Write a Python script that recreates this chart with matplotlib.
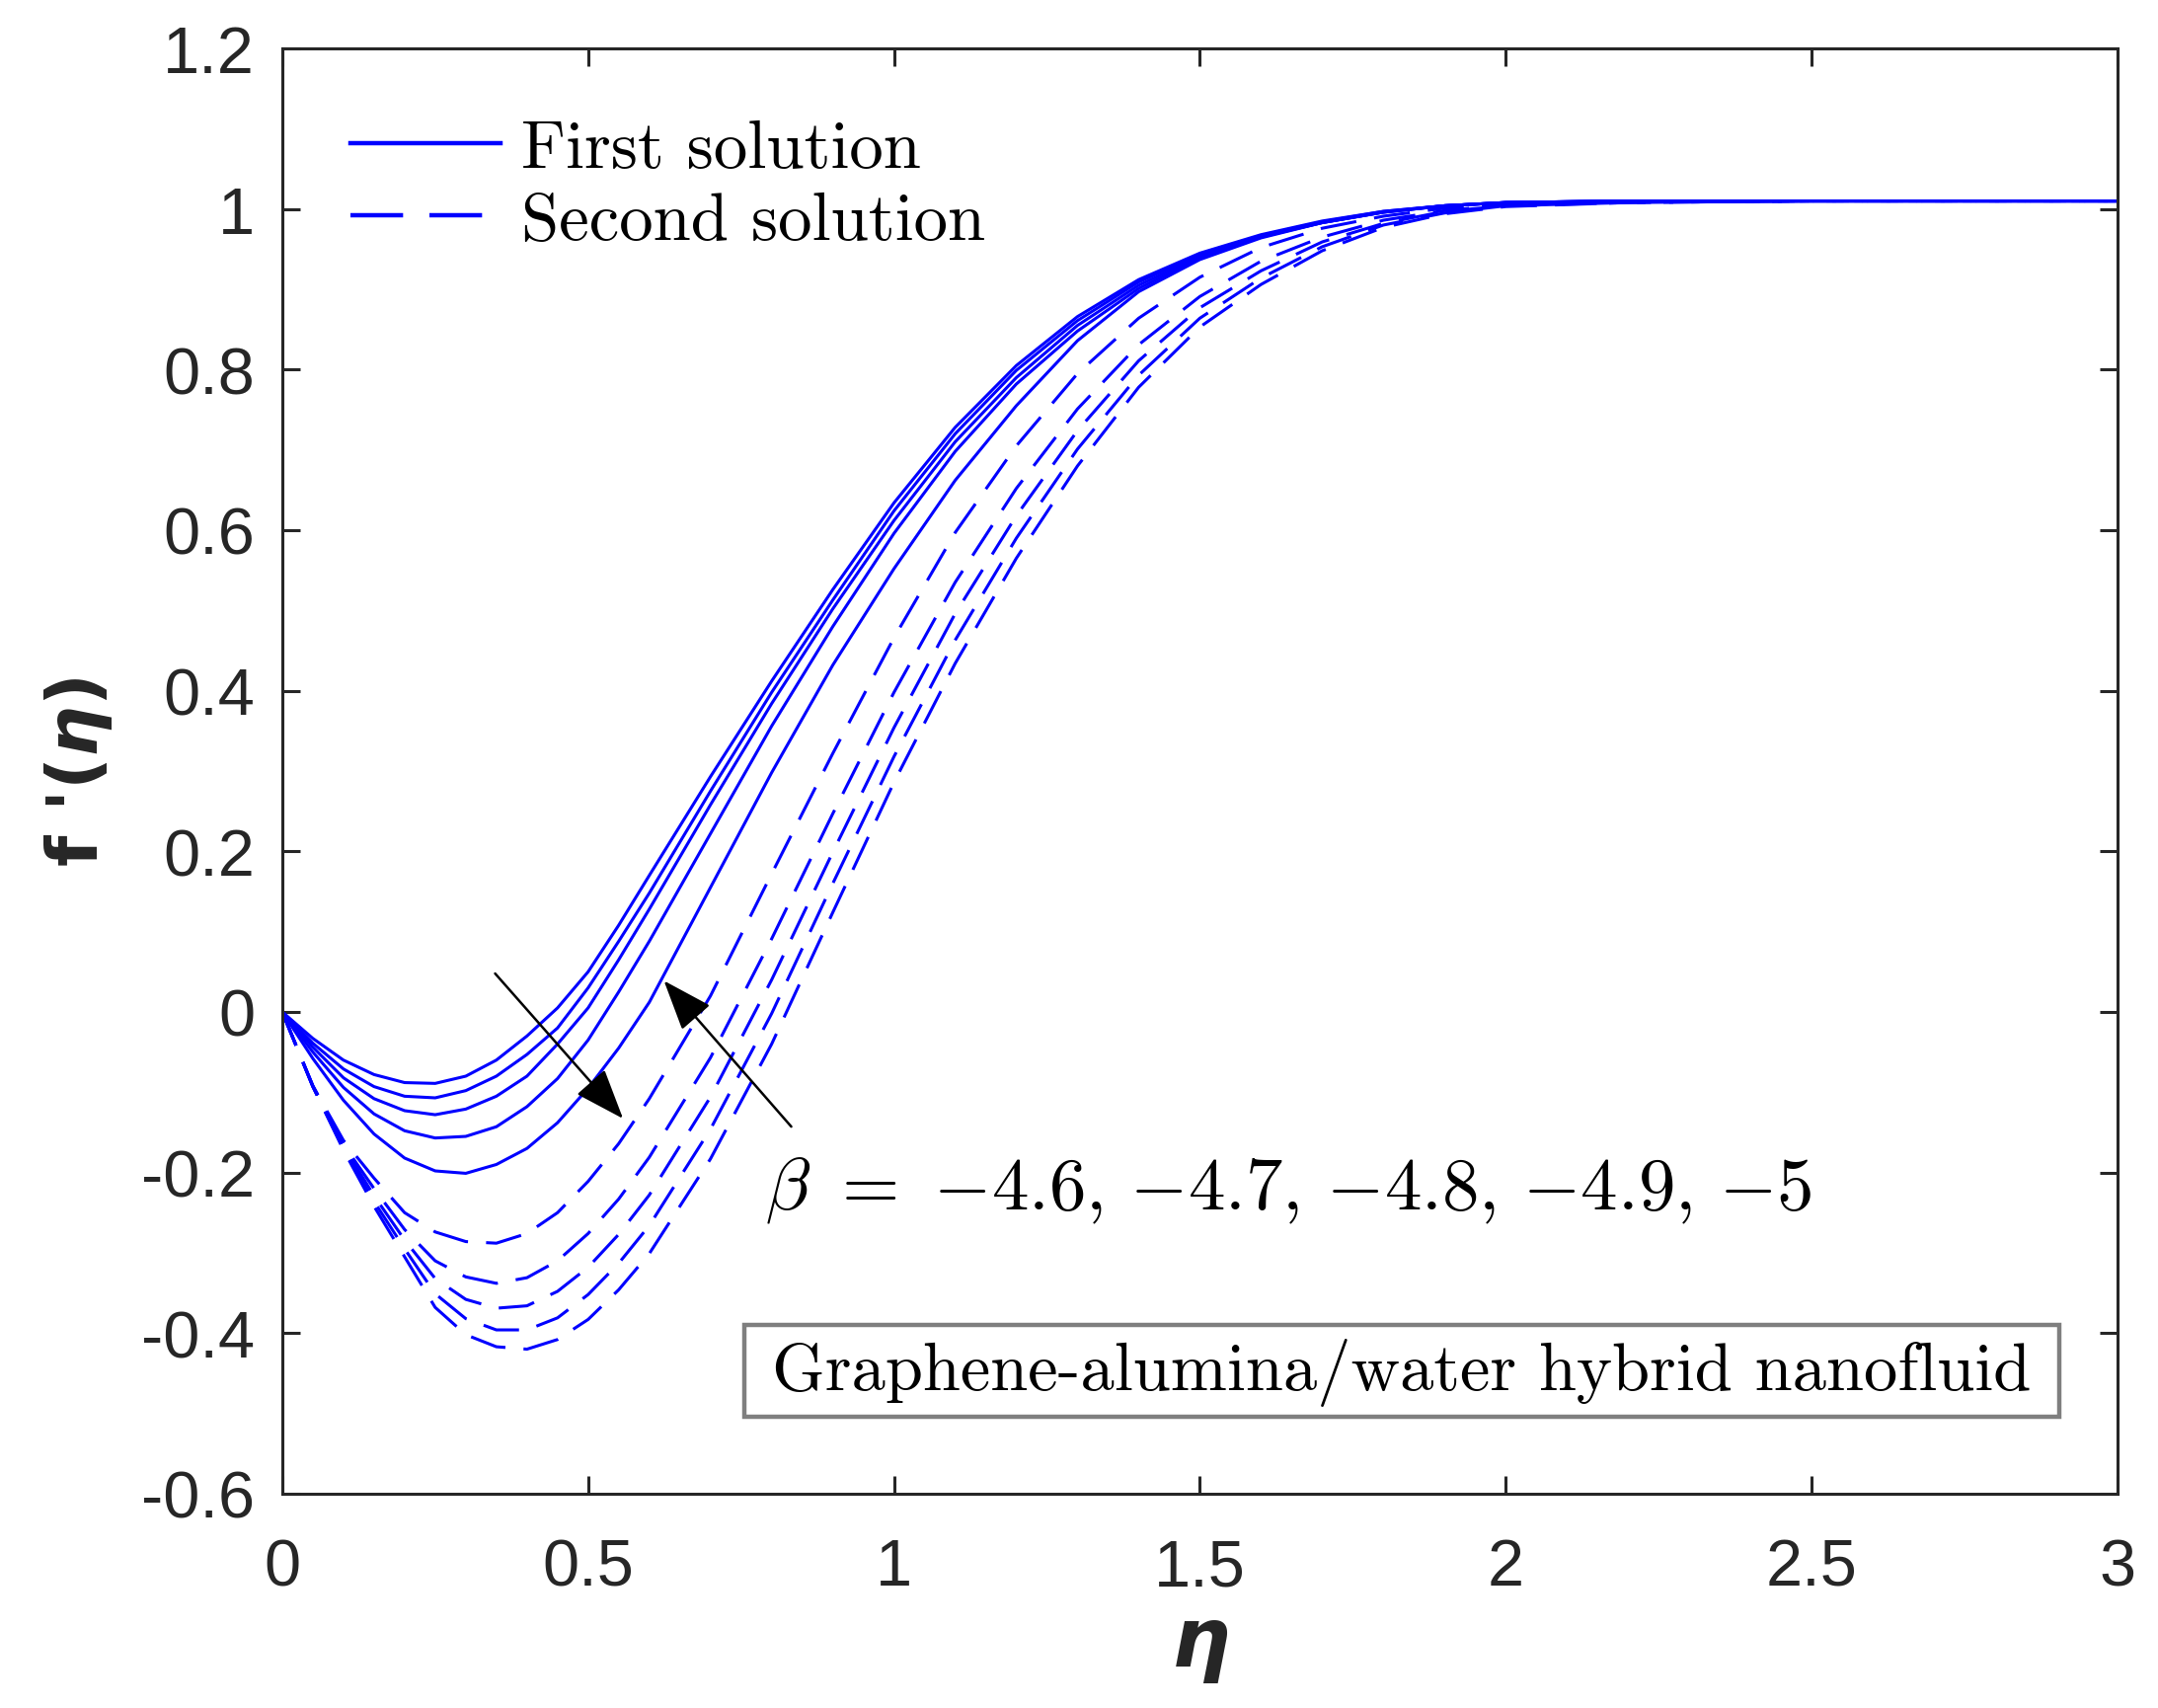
import numpy as np
import matplotlib.pyplot as plt
from matplotlib.patches import Rectangle

plt.rcParams['axes.unicode_minus'] = False
plt.rcParams['mathtext.fontset'] = 'custom'
plt.rcParams['mathtext.bfit'] = 'DejaVu Sans:italic:bold'
plt.rcParams['mathtext.bf'] = 'DejaVu Sans:bold'

eta = [0, 0.05, 0.1, 0.15, 0.2, 0.25, 0.3, 0.35, 0.4, 0.45, 0.5, 0.55, 0.6, 0.7, 0.8,
       0.9, 1.0, 1.1, 1.2, 1.3, 1.4, 1.5, 1.6, 1.7, 1.8, 1.9, 2.0, 2.2, 2.5, 3.0]

# first solution, beta = -4.6 ... -5
first = [
    [0, -0.033, -0.060, -0.078, -0.088, -0.089, -0.080, -0.060, -0.030, 0.005, 0.050, 0.108, 0.170, 0.293, 0.412,
     0.526, 0.634, 0.728, 0.805, 0.866, 0.912, 0.945, 0.968, 0.985, 0.997, 1.004, 1.008, 1.010, 1.010, 1.010],
    [0, -0.039, -0.071, -0.093, -0.105, -0.107, -0.098, -0.080, -0.053, -0.020, 0.030, 0.088, 0.148, 0.275, 0.398,
     0.513, 0.624, 0.720, 0.799, 0.861, 0.909, 0.943, 0.967, 0.984, 0.997, 1.004, 1.008, 1.010, 1.010, 1.010],
    [0, -0.044, -0.082, -0.108, -0.123, -0.128, -0.121, -0.105, -0.080, -0.040, 0.005, 0.065, 0.128, 0.258, 0.384,
     0.502, 0.612, 0.710, 0.790, 0.855, 0.905, 0.941, 0.966, 0.983, 0.996, 1.004, 1.008, 1.010, 1.010, 1.010],
    [0, -0.050, -0.094, -0.127, -0.148, -0.157, -0.155, -0.143, -0.118, -0.083, -0.035, 0.025, 0.088, 0.222, 0.356,
     0.480, 0.596, 0.698, 0.782, 0.848, 0.901, 0.939, 0.965, 0.983, 0.996, 1.004, 1.008, 1.010, 1.010, 1.010],
    [0, -0.058, -0.110, -0.152, -0.182, -0.198, -0.201, -0.190, -0.170, -0.138, -0.095, -0.045, 0.012, 0.155, 0.298,
     0.432, 0.552, 0.662, 0.755, 0.836, 0.897, 0.937, 0.964, 0.983, 0.996, 1.004, 1.008, 1.010, 1.010, 1.010],
]

# second solution
second = [
    [0, -0.092, -0.160, -0.207, -0.250, -0.274, -0.286, -0.288, -0.276, -0.250, -0.211, -0.164, -0.108, 0.020, 0.172,
     0.322, 0.466, 0.597, 0.705, 0.795, 0.864, 0.915, 0.952, 0.976, 0.991, 1.001, 1.006, 1.009, 1.010, 1.010],
    [0, -0.092, -0.165, -0.220, -0.271, -0.310, -0.330, -0.338, -0.331, -0.310, -0.276, -0.233, -0.181, -0.057, 0.091,
     0.247, 0.398, 0.535, 0.652, 0.751, 0.831, 0.891, 0.935, 0.965, 0.986, 0.998, 1.005, 1.009, 1.010, 1.010],
    [0, -0.093, -0.167, -0.229, -0.284, -0.332, -0.358, -0.369, -0.366, -0.348, -0.318, -0.277, -0.228, -0.106, 0.040,
     0.199, 0.354, 0.496, 0.618, 0.724, 0.811, 0.877, 0.923, 0.959, 0.982, 0.997, 1.004, 1.008, 1.010, 1.010],
    [0, -0.093, -0.170, -0.236, -0.295, -0.351, -0.382, -0.396, -0.396, -0.381, -0.352, -0.313, -0.266, -0.146, -0.002,
     0.160, 0.318, 0.463, 0.590, 0.701, 0.793, 0.864, 0.914, 0.953, 0.980, 0.995, 1.004, 1.008, 1.010, 1.010],
    [0, -0.093, -0.172, -0.242, -0.305, -0.368, -0.402, -0.417, -0.420, -0.408, -0.383, -0.346, -0.301, -0.183, -0.040,
     0.124, 0.286, 0.434, 0.565, 0.680, 0.778, 0.853, 0.906, 0.948, 0.977, 0.994, 1.003, 1.008, 1.010, 1.010],
]

yticks = [-0.6, -0.4, -0.2, 0, 0.2, 0.4, 0.6, 0.8, 1, 1.2]
ytick_labels = ['-0.6', '-0.4', '-0.2', '0', '0.2', '0.4', '0.6', '0.8', '1', '1.2']
xticks = [0, 0.5, 1, 1.5, 2, 2.5, 3]
xtick_labels = ['0', '0.5', '1', '1.5', '2', '2.5', '3']

fig = plt.figure(figsize=(10.93, 8.655), dpi=200)
ax = fig.add_axes([0.1308, 0.1254, 0.8504, 0.8457])

blue = '#0000ff'
for f in first:
    l1, = ax.plot(eta, f, color=blue, lw=1.1)
for f in second:
    l2, = ax.plot(eta, f, color=blue, lw=1.1, dashes=(12, 6))

ax.set_xlim(0, 3)
ax.set_ylim(-0.6, 1.2)
ax.set_xticks(xticks)
ax.set_xticklabels(xtick_labels)
ax.set_yticks(yticks)
ax.set_yticklabels(ytick_labels)
ax.tick_params(direction='in', length=6.5, width=1.1, top=True, right=True,
               labelsize=24, colors='#262626', pad=10)
ax.tick_params(axis='x', pad=16)
for lab in ax.get_xticklabels() + ax.get_yticklabels():
    lab.set_family('Liberation Sans')
for s in ax.spines.values():
    s.set_linewidth(1.1)
    s.set_color('#262626')

ax.text(-0.111, 0.5, r"f '($\mathbfit{\eta}$)", transform=ax.transAxes, rotation=90,
        ha='center', va='center', fontsize=26, fontweight='bold', color='#262626')
ax.text(0.5, -0.104, r"$\mathbfit{\eta}$", transform=ax.transAxes,
        ha='center', va='center', fontsize=30, color='#262626')

leg = ax.legend([l1, l2], ['First solution', 'Second solution'], loc='upper left',
                bbox_to_anchor=(0.004, 0.993), frameon=False,
                prop={'family': 'cmr10', 'size': 24.8}, handlelength=2.2,
                handletextpad=0.3, labelspacing=0.16)
for h in leg.legend_handles:
    h.set_linewidth(1.6)

ax.annotate('', xy=(0.563, -0.138), xytext=(0.342, 0.053),
            arrowprops=dict(arrowstyle='-|>,head_length=0.8,head_width=0.3',
                            mutation_scale=20, color='k', lw=0.9))
ax.annotate('', xy=(0.618, 0.044), xytext=(0.838, -0.148),
            arrowprops=dict(arrowstyle='-|>,head_length=0.8,head_width=0.3',
                            mutation_scale=20, color='k', lw=0.9))

ax.text(0.79, -0.221, r'$\beta\ =\ {-4.6},\,{-4.7},\,{-4.8},\,{-4.9},\,{-5}$',
        math_fontfamily='cm', fontsize=27, ha='left', va='center')

ax.add_patch(Rectangle((0.755, -0.504), 2.15, 0.1143, fc='white', ec='#7f7f7f', lw=1.6, zorder=3))
ax.text(1.83, -0.4488, 'Graphene-alumina/water hybrid nanofluid', family='cmr10',
        fontsize=24.7, ha='center', va='center', zorder=4)

fig.savefig('out.png', dpi=200)
